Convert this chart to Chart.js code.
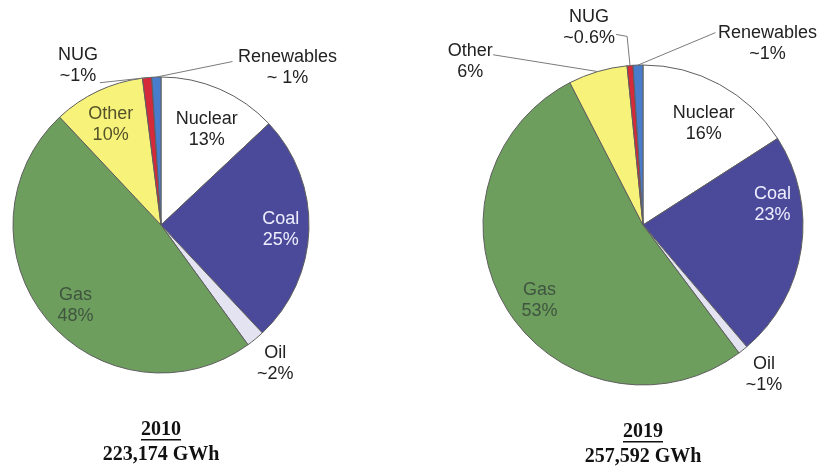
<!DOCTYPE html>
<html>
<head>
<meta charset="utf-8">
<script src="https://cdn.jsdelivr.net/npm/chart.js@4/dist/chart.umd.min.js"></script>
<style>
  html, body { margin: 0; padding: 0; background: #ffffff; }
  #wrap { position: relative; width: 820px; height: 469px; overflow: hidden; }
  #wrap canvas { position: absolute; top: 0; }
</style>
</head>
<body>
<div id="wrap">
  <canvas id="c2010" width="410" height="469" style="left:0"></canvas>
  <canvas id="c2019" width="410" height="469" style="left:410px"></canvas>
</div>
<script>
// Generation mix by source, percent of annual energy
const categories = ['Nuclear', 'Coal', 'Oil', 'Gas', 'Other', 'NUG', 'Renewables'];
const share2010 = [13, 25, 2, 48, 10, 1, 1];
const share2019 = [16, 23, 1, 53, 6, 0.6, 1];
const valueText2010 = ['13%', '25%', '~2%', '48%', '10%', '~1%', '~ 1%'];
const valueText2019 = ['16%', '23%', '~1%', '53%', '6%', '~0.6%', '~1%'];
const years = ['2010', '2019'];
const totals = ['223,174 GWh', '257,592 GWh'];

const sliceColors = ['#ffffff', '#4b4a9a', '#e3e3f1', '#6e9e5d', '#f6f27a', '#d42a3a', '#4a7ccc'];
const textColors  = ['#222222', '#eeeeff', '#222222', '#3f5540', '#55532a', '#222222', '#222222'];

// Label placement: f = distance as fraction of radius, s = degrees turned from the slice middle,
// lead = optional leader line from the label (offset) to the slice edge, color = text colour override
const layout2010 = [
  { f: 0.72, s: 2 },
  { f: 0.81, s: 0 },
  { f: 1.21, s: 0 },
  { f: 0.79, s: -3.4 },
  { f: 0.76, s: -1.4 },
  { f: 1.22, s: -22, lead: { from: [22, 18] } },
  { f: 1.37, s: 40.4, lead: { from: [-55, -5] } }
];
const layout2019 = [
  { f: 0.74, s: 2.3 },
  { f: 0.82, s: -17.6 },
  { f: 1.20, s: -0.4 },
  { f: 0.80, s: -4.1 },
  { f: 1.49, s: -30, lead: { from: [23, -6] }, color: '#222222' },
  { f: 1.28, s: -10.6, lead: { from: [27, 7], knee: [38, 9] } },
  { f: 1.38, s: 36.1, lead: { from: [-52, -10] } }
];

const labelPlugin = {
  id: 'sliceLabels',
  afterDatasetsDraw(chart, args, opts) {
    const ctx = chart.ctx;
    const meta = chart.getDatasetMeta(0);
    let cx = 0, cy = 0, R = 0;
    ctx.save();
    meta.data.forEach((arc, i) => {
      const p = arc.getProps(['x', 'y', 'startAngle', 'endAngle', 'outerRadius'], true);
      cx = p.x; cy = p.y; R = p.outerRadius;
      const mid = (p.startAngle + p.endAngle) / 2;
      const spec = opts.layout[i];
      const a = mid + spec.s * Math.PI / 180;
      const lx = p.x + Math.cos(a) * spec.f * R;
      const ly = p.y + Math.sin(a) * spec.f * R;
      if (spec.lead) {
        const ex = p.x + Math.cos(mid) * R;
        const ey = p.y + Math.sin(mid) * R;
        ctx.beginPath();
        ctx.strokeStyle = '#7a7a7a';
        ctx.lineWidth = 1;
        ctx.moveTo(lx + spec.lead.from[0], ly + spec.lead.from[1]);
        if (spec.lead.knee) ctx.lineTo(lx + spec.lead.knee[0], ly + spec.lead.knee[1]);
        ctx.lineTo(ex, ey);
        ctx.stroke();
      }
      ctx.fillStyle = spec.color || textColors[i];
      ctx.font = '18px "Liberation Sans", Arial, sans-serif';
      ctx.textAlign = 'center';
      ctx.textBaseline = 'middle';
      ctx.fillText(chart.data.labels[i], lx, ly - 10);
      ctx.fillText(opts.values[i], lx, ly + 11);
    });

    // Year and total under the pie
    ctx.fillStyle = '#111111';
    ctx.font = 'bold 20px "Liberation Serif", "Times New Roman", serif';
    ctx.textAlign = 'center';
    ctx.textBaseline = 'middle';
    const yearY = opts.captionY[0];
    ctx.fillText(opts.year, cx, yearY);
    const w = ctx.measureText(opts.year).width;
    ctx.fillRect(cx - w / 2, yearY + 9, w, 1.5);
    ctx.fillText(opts.total, cx, opts.captionY[1]);
    ctx.restore();
  }
};

function makePie(id, values, valueText, layout, year, total, padding, radius, captionY) {
  return new Chart(document.getElementById(id), {
    type: 'pie',
    data: {
      labels: categories,
      datasets: [{
        data: values,
        backgroundColor: sliceColors,
        borderColor: '#5e5e5e',
        borderWidth: 1
      }]
    },
    options: {
      responsive: false,
      animation: false,
      radius: radius,
      layout: { padding: padding },
      plugins: {
        legend: { display: false },
        tooltip: { enabled: false },
        sliceLabels: { layout: layout, values: valueText, year: year, total: total, captionY: captionY }
      }
    },
    plugins: [labelPlugin]
  });
}

makePie('c2010', share2010, valueText2010, layout2010, years[0], totals[0],
  { left: 0, right: 88, top: 0, bottom: 19 }, 148, [430, 455]);
makePie('c2019', share2019, valueText2019, layout2019, years[1], totals[1],
  { left: 56, right: 0, top: 0, bottom: 19 }, 160, [432, 457]);
</script>
</body>
</html>
